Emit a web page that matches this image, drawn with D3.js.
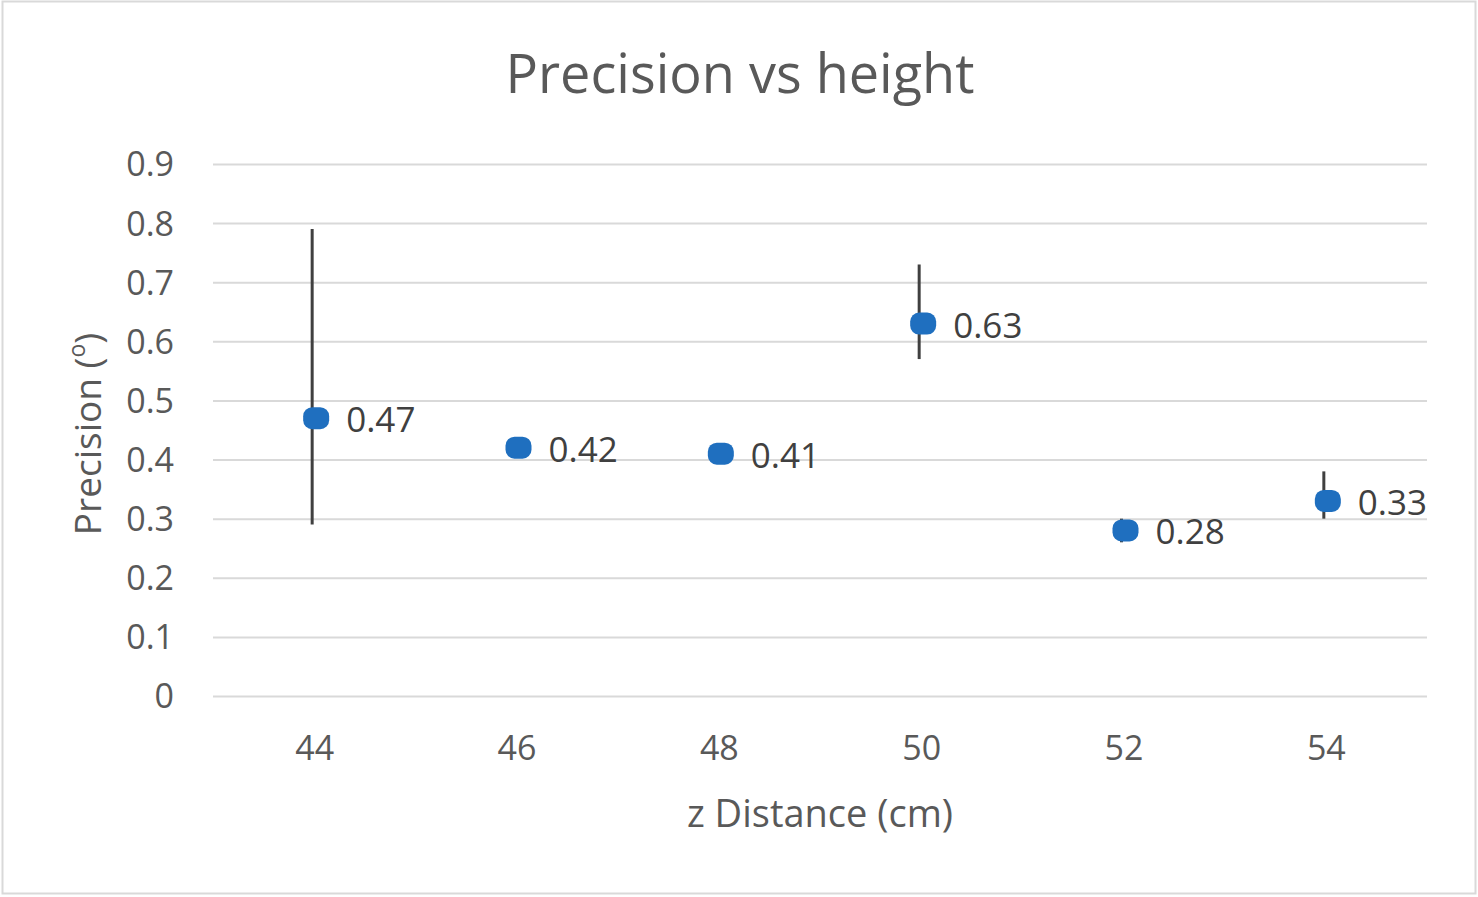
<!DOCTYPE html>
<html>
<head>
<meta charset="utf-8">
<script src="https://cdn.jsdelivr.net/npm/d3@7"></script>
<style>
  body { margin: 0; background: #fff; }
  text { font-family: "Open Sans", "Liberation Sans", sans-serif; }
</style>
</head>
<body>
<svg id="chart" width="1478" height="897"></svg>
<script>
// values
const distances = [44, 46, 48, 50, 52, 54];
const precision = [0.47, 0.42, 0.41, 0.63, 0.28, 0.33];
const errLow  = [0.29, 0.42, 0.41, 0.57, 0.26, 0.30];
const errHigh = [0.79, 0.42, 0.41, 0.73, 0.30, 0.38];
const yTicks = [0, 0.1, 0.2, 0.3, 0.4, 0.5, 0.6, 0.7, 0.8, 0.9];
const xTicks = [44, 46, 48, 50, 52, 54];

const W = 1478, H = 897;
const plot = {left: 213, right: 1427, top: 164, bottom: 696};

const svg = d3.select('#chart');

// outer chart border
svg.append('rect')
    .attr('x', 2.5).attr('y', 1.5)
    .attr('width', W - 5).attr('height', H - 5)
    .attr('fill', '#fff')
    .attr('stroke', '#d9d9d9')
    .attr('stroke-width', 2);

const x = d3.scaleLinear().domain([43, 55]).range([plot.left, plot.right]);
const y = d3.scaleLinear().domain([0, 0.9]).range([plot.bottom, plot.top]);

/* gridlines + y tick labels */
const yAxis = d3.axisLeft(y)
    .tickValues(yTicks)
    .tickSize(-(plot.right - plot.left))
    .tickPadding(39)
    .tickFormat(d => d === 0 ? '0' : d3.format('.1f')(d));

const gy = svg.append('g')
    .attr('transform', `translate(${plot.left},0)`)
    .call(yAxis);
gy.select('.domain').remove();
gy.selectAll('.tick line').attr('stroke', '#d9d9d9').attr('stroke-width', 2);
gy.selectAll('.tick text')
    .attr('fill', '#595959')
    .style('font-size', '34px')
    .attr('dy', '0.35em');

/* x tick labels (no axis line) */
const xAxis = d3.axisBottom(x)
    .tickValues(xTicks)
    .tickSize(0)
    .tickPadding(52);
const gx = svg.append('g')
    .attr('transform', `translate(0,${plot.bottom})`)
    .call(xAxis);
gx.select('.domain').remove();
gx.selectAll('.tick text')
    .attr('fill', '#595959')
    .style('font-size', '34px')
    .attr('dy', '0.35em');

/* title and axis titles */
svg.append('text')
    .attr('x', 740).attr('y', 93)
    .attr('text-anchor', 'middle')
    .attr('fill', '#595959')
    .style('font-size', '54px')
    .text('Precision vs height');

svg.append('text')
    .attr('x', 820).attr('y', 827)
    .attr('text-anchor', 'middle')
    .attr('fill', '#595959')
    .style('font-size', '38px')
    .text('z Distance (cm)');

const yLabel = svg.append('text')
    .attr('transform', `translate(101,434) rotate(-90)`)
    .attr('text-anchor', 'middle')
    .attr('fill', '#595959')
    .style('font-size', '37px');
yLabel.append('tspan').text('Precision (');
yLabel.append('tspan').attr('baseline-shift', 'super').style('font-size', '23px').text('o');
yLabel.append('tspan').text(')');

/* error bars */
const points = distances.map((d, i) => ({
    x: d, y: precision[i], lo: errLow[i], hi: errHigh[i]
}));

svg.append('g').selectAll('line')
    .data(points.filter(p => p.hi > p.lo))
    .join('line')
    .attr('x1', d => x(d.x) - 2).attr('x2', d => x(d.x) - 2)
    .attr('y1', d => y(d.hi)).attr('y2', d => y(d.lo))
    .attr('stroke', '#404040')
    .attr('stroke-width', 3);

/* markers */
svg.append('g').selectAll('rect')
    .data(points)
    .join('rect')
    .attr('x', d => x(d.x) + 2 - 13)
    .attr('y', d => y(d.y) - 11)
    .attr('width', 26).attr('height', 22)
    .attr('rx', 9).attr('ry', 9)
    .attr('fill', '#1f6fbf');

/* data labels */
svg.append('g').selectAll('text')
    .data(points)
    .join('text')
    .attr('x', d => x(d.x) + 32)
    .attr('y', d => y(d.y) + 14)
    .attr('fill', '#404040')
    .style('font-size', '35px')
    .text(d => d.y.toFixed(2));
</script>
</body>
</html>
